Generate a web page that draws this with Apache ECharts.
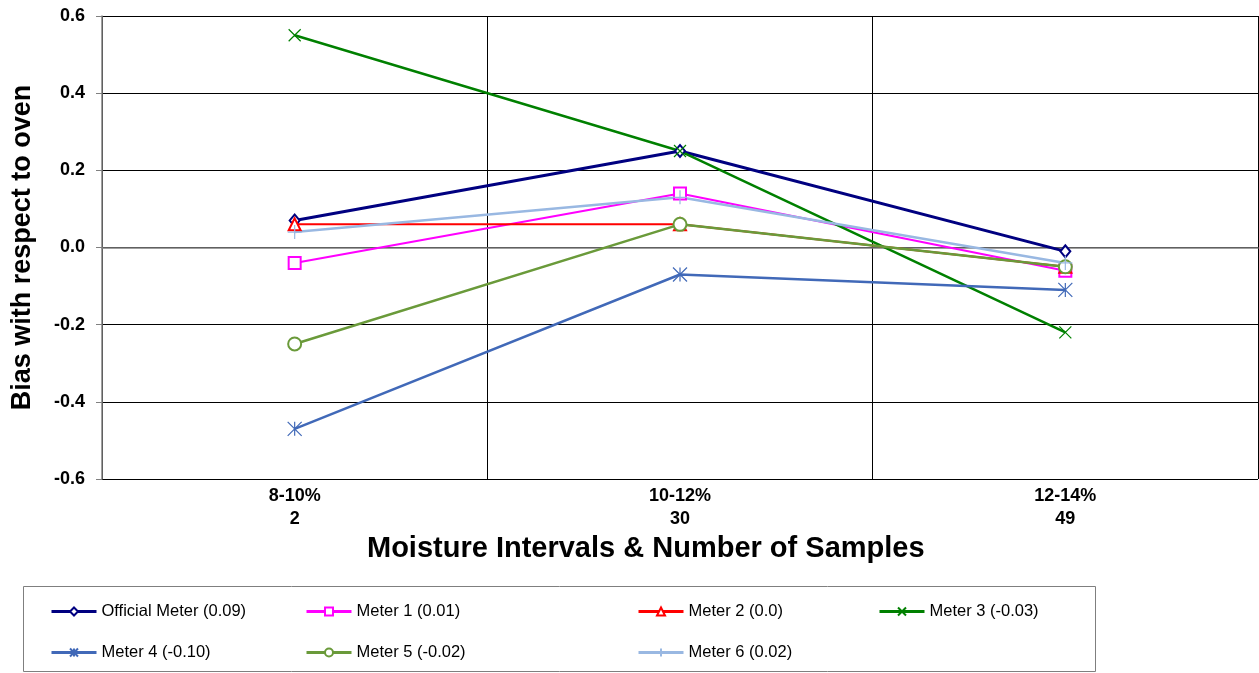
<!DOCTYPE html>
<html>
<head>
<meta charset="utf-8">
<script src="https://cdn.jsdelivr.net/npm/echarts@6/dist/echarts.min.js"></script>
<style>
  html, body { margin: 0; padding: 0; background: #fff; }
  #chart { width: 1259px; height: 673px; }
</style>
</head>
<body>
<div id="chart"></div>
<script>
  // categories (interval + number of samples)
  var categories = ['8-10%\n2', '10-12%\n30', '12-14%\n49'];
  var seriesNames = ['Official Meter (0.09)', 'Meter 1 (0.01)', 'Meter 2 (0.0)', 'Meter 3 (-0.03)',
    'Meter 4 (-0.10)', 'Meter 5 (-0.02)', 'Meter 6 (0.02)'];
  var officialMeter = [0.07, 0.25, -0.01];
  var meter1 = [-0.04, 0.14, -0.06];
  var meter2 = [0.06, 0.06, -0.05];
  var meter3 = [0.55, 0.25, -0.22];
  var meter4 = [-0.47, -0.07, -0.11];
  var meter5 = [-0.25, 0.06, -0.05];
  var meter6 = [0.04, 0.13, -0.04];

  var font = "'Liberation Sans', Arial, sans-serif";
  var crossPath = 'path://M0,0L10,10M10,0L0,10';
  var starPath = 'path://M5,0L5,10M0,0L10,10M10,0L0,10';
  var plusPath = 'path://M5,0L5,10M0,5L10,5';

  function line(name, data, color, symbol, size, width) {
    return {
      name: name,
      type: 'line',
      data: data,
      symbol: symbol,
      symbolSize: size,
      lineStyle: { color: color, width: width },
      itemStyle: { color: color, borderColor: color, borderWidth: 1.2 },
      emphasis: { disabled: true }
    }
  }

  var legendBase = {
    orient: 'vertical',
    top: 598,
    itemWidth: 45,
    itemHeight: 10,
    itemGap: 24,
    lineStyle: { width: 3 },
    textStyle: { fontFamily: font, fontSize: 16.5, color: '#000' }
  }

  var myChart = echarts.init(document.getElementById('chart'))
  myChart.setOption({
    animation: false,
    title: {
      text: 'Moisture Intervals & Number of Samples',
      left: 362,
      top: 529,
      textStyle: { fontFamily: font, fontSize: 29, fontWeight: 'bold', color: '#000' }
    },
    grid: { left: 102, top: 16, right: 1, bottom: 194, outerBoundsMode: 'none' },
    legend: [
      Object.assign({ left: 45, data: [seriesNames[0], seriesNames[4]] }, legendBase),
      Object.assign({ left: 300, data: [seriesNames[1], seriesNames[5]] }, legendBase),
      Object.assign({ left: 632, data: [seriesNames[2], seriesNames[6]] }, legendBase),
      Object.assign({ left: 873, data: [seriesNames[3]] }, legendBase)
    ],
    graphic: [{
      type: 'rect',
      shape: { x: 23.5, y: 586.5, width: 1072, height: 85 },
      style: { fill: 'none', stroke: '#7f7f7f', lineWidth: 1 },
      z: -1
    }],
    xAxis: {
      type: 'category',
      data: categories,
      boundaryGap: true,
      axisLine: { lineStyle: { color: '#808080', width: 1.5 } },
      axisTick: { show: false },
      splitLine: { show: true, lineStyle: { color: '#000', width: 1 } },
      axisLabel: {
        fontFamily: font, fontSize: 18, fontWeight: 'bold', color: '#000',
        lineHeight: 23, margin: 6
      }
    },
    yAxis: {
      type: 'value',
      min: -0.6,
      max: 0.6,
      interval: 0.2,
      name: 'Bias with respect to oven',
      nameLocation: 'middle',
      nameGap: 66,
      nameTextStyle: { fontFamily: font, fontSize: 27, fontWeight: 'bold', color: '#000' },
      axisLine: { show: true, lineStyle: { color: '#808080', width: 1.5 } },
      axisTick: { show: true, length: 6, lineStyle: { color: '#808080' } },
      splitLine: { lineStyle: { color: '#000', width: 1 } },
      axisLabel: {
        fontFamily: font, fontSize: 18, fontWeight: 'bold', color: '#000', margin: 17,
        formatter: function (v) { return v.toFixed(1) }
      }
    },
    series: [
      line(seriesNames[0], officialMeter, '#000080', 'emptyDiamond', [10, 12], 3),
      line(seriesNames[1], meter1, '#ff00ff', 'emptyRect', 12, 2),
      line(seriesNames[2], meter2, '#ff0000', 'emptyTriangle', 12, 2),
      line(seriesNames[3], meter3, '#008000', crossPath, 12, 2.5),
      line(seriesNames[4], meter4, '#4169b8', starPath, 14, 2.5),
      line(seriesNames[5], meter5, '#6a9a3a', 'emptyCircle', 13, 2.5),
      line(seriesNames[6], meter6, '#99b8e2', plusPath, 14, 2.5)
    ]
  })
</script>
</body>
</html>
